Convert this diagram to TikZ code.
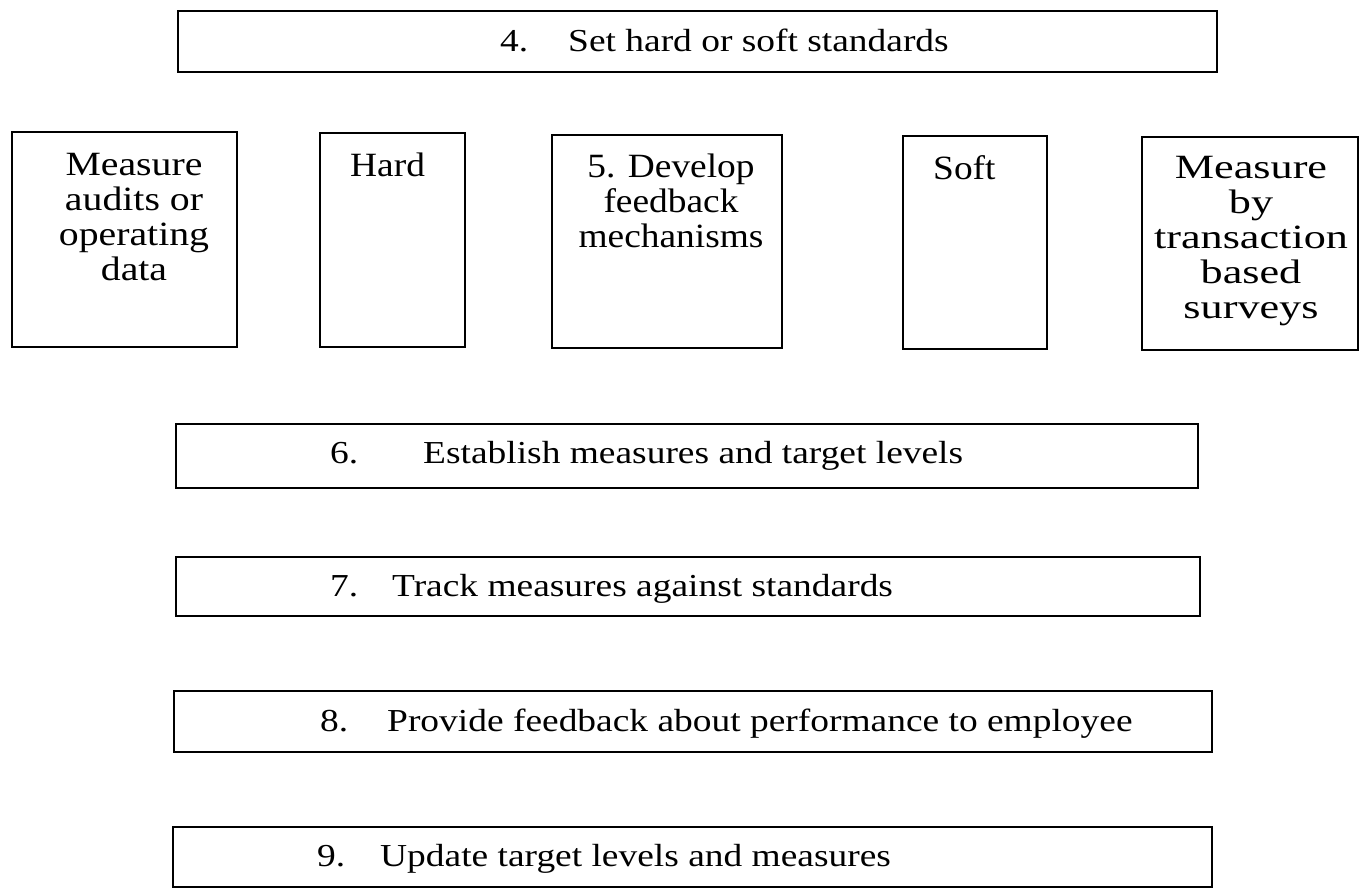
\documentclass[tikz,border=0pt]{standalone}
\usepackage{fontspec}
\setmainfont{Liberation Serif}
\newfontfamily\stepfont[FakeStretch=1.17]{Liberation Serif}
\newfontfamily\rowfont[FakeStretch=1.1]{Liberation Serif}
\newfontfamily\rowfontA[FakeStretch=1.17]{Liberation Serif}
\newfontfamily\rowfontB[FakeStretch=1.3]{Liberation Serif}
\tikzset{
  boxline/.style={draw=black, line width=2.2pt},
  steptext/.style={anchor=base west, inner sep=0pt, font=\stepfont\fontsize{32}{35}\selectfont},
  rowtext/.style={anchor=north, inner sep=0pt, align=center, font=\rowfont\fontsize{34}{35}\selectfont},
}
\begin{document}
\begin{tikzpicture}[x=1pt, y=-1pt]
\useasboundingbox (0,0) rectangle (1361,891);
% step 4
\draw[boxline] (178,11) rectangle (1217,72);
\node[steptext] (n4) at (500,52) {4.};
\node[steptext] (t4) at (568,52) {Set hard or soft standards};
% row of boxes
\draw[boxline] (12,132) rectangle (237,347);
\node[rowtext, font=\rowfontA\fontsize{34}{35}\selectfont] (ma) at (134,153) {Measure\\audits or\\operating\\data};
\draw[boxline] (320,133) rectangle (465,347);
\node[rowtext, anchor=north west] (hard) at (350,153) {Hard};
\draw[boxline] (552,135) rectangle (782,348);
\node[rowtext] (dev) at (671,154) {5. Develop\\feedback\\mechanisms};
\draw[boxline] (903,136) rectangle (1047,349);
\node[rowtext, anchor=north west] (soft) at (933,155) {Soft};
\draw[boxline] (1142,137) rectangle (1358,350);
\node[rowtext, font=\rowfontB\fontsize{34}{35}\selectfont] (mb) at (1251,156) {Measure\\by\\transaction\\based\\surveys};
% step 6
\draw[boxline] (176,424) rectangle (1198,488);
\node[steptext] (n6) at (330,463) {6.};
\node[steptext] (t6) at (423,463) {Establish measures and target levels};
% step 7
\draw[boxline] (176,557) rectangle (1200,616);
\node[steptext] (n7) at (330,596) {7.};
\node[steptext] (t7) at (392,596) {Track measures against standards};
% step 8
\draw[boxline] (174,691) rectangle (1212,752);
\node[steptext] (n8) at (320,731) {8.};
\node[steptext] (t8) at (387,731) {Provide feedback about performance to employee};
% step 9
\draw[boxline] (173,827) rectangle (1212,887);
\node[steptext] (n9) at (317,866) {9.};
\node[steptext] (t9) at (380,866) {Update target levels and measures};
\end{tikzpicture}
\end{document}
